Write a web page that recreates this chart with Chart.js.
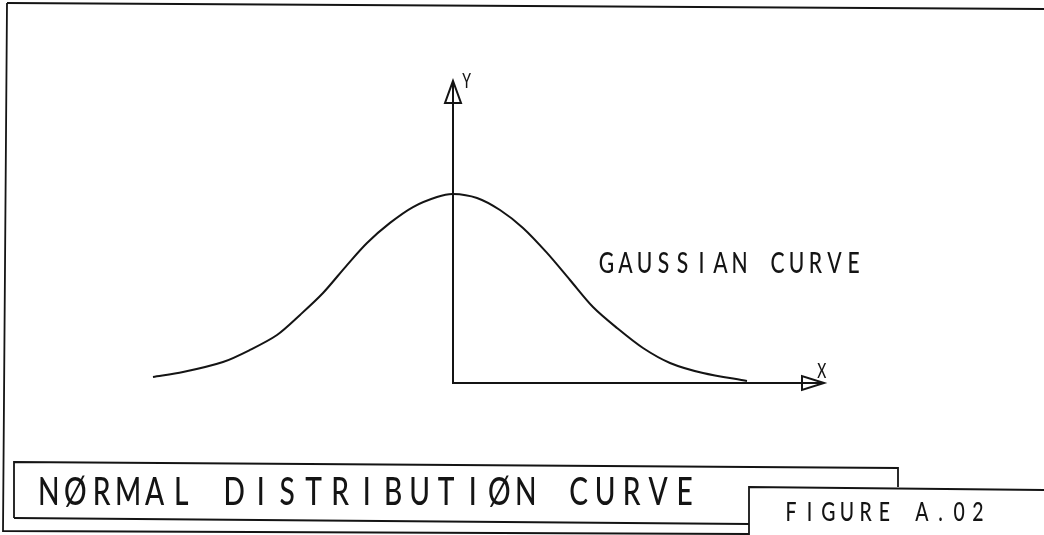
<!DOCTYPE html>
<html>
<head>
<meta charset="utf-8">
<script src="https://cdn.jsdelivr.net/npm/chart.js@4.4.1/dist/chart.umd.min.js"></script>
<style>
  html, body { margin: 0; padding: 0; background: #fff; }
  #wrap { width: 1044px; height: 535px; }
</style>
</head>
<body>
<div id="wrap"><canvas id="chart" width="1044" height="535"></canvas></div>
<script>
// Curve: x in hundreds of pixels from the Y axis, y relative to the peak
const curveX = [-3.00, -2.70, -2.30, -2.03, -1.76, -1.53, -1.30, -1.06, -0.86, -0.63, -0.40, -0.16,
                0.00, 0.24, 0.47, 0.70, 0.94, 1.17, 1.40, 1.64, 1.90, 2.17, 2.50, 2.94];
const curveY = [0.032, 0.058, 0.111, 0.175, 0.254, 0.360, 0.476, 0.624, 0.741, 0.847, 0.931, 0.984,
                1.000, 0.979, 0.915, 0.820, 0.688, 0.545, 0.402, 0.291, 0.185, 0.106, 0.053, 0.011];

// Where the drawn axes end (data units)
const axisXEnd = 3.71;
const axisYEnd = 1.598;

// Visible window of the sheet
const xMin = -4.53, xMax = 5.91;
const yMin = -0.804, yMax = 2.026;

// Texts
const curveLabel = 'GAUSSIAN CURVE';
const xLabel = 'X';
const yLabel = 'Y';
const titleText = 'NØRMAL DISTRIBUTIØN CURVE';
const figureText = 'FIGURE A.02';

const ink = '#141414';
const textFont = 'Lato';
const textWeight = 500;
const capRatio = 0.72;
const glyphRatio = 0.62;   // glyph width / cap height of the plotter lettering

// Draw text like a pen plotter: fixed advance per character, narrow glyphs
function plotterText(ctx, text, left, baseline, cap, advance) {
    const size = cap / capRatio;
    ctx.save();
    ctx.font = textWeight + ' ' + size + 'px ' + textFont;
    ctx.fillStyle = ink;
    ctx.textBaseline = 'alphabetic';
    ctx.textAlign = 'center';
    const m = ctx.measureText('N');
    const inkW = m.actualBoundingBoxRight + m.actualBoundingBoxLeft;
    const cell = glyphRatio * cap;
    const sx = cell / inkW;
    for (let i = 0; i < text.length; i++) {
        ctx.save();
        ctx.translate(left + i * advance + cell / 2, baseline);
        ctx.scale(sx, 1);
        ctx.fillText(text[i], 0, 0);
        ctx.restore();
    }
    ctx.restore();
}

function polyline(ctx, pts, close) {
    ctx.beginPath();
    ctx.moveTo(pts[0][0], pts[0][1]);
    for (let i = 1; i < pts.length; i++) ctx.lineTo(pts[i][0], pts[i][1]);
    if (close) ctx.closePath();
    ctx.stroke();
}

const sheetPlugin = {
    id: 'sheet',
    beforeDraw(chart) {
        const ctx = chart.ctx;
        ctx.save();
        ctx.fillStyle = '#fff';
        ctx.fillRect(0, 0, chart.width, chart.height);
        ctx.restore();
    },
    afterDatasetsDraw(chart) {
        const ctx = chart.ctx;
        const xs = chart.scales.x, ys = chart.scales.y;
        const ox = xs.getPixelForValue(0), oy = ys.getPixelForValue(0);
        const xe = xs.getPixelForValue(axisXEnd), ye = ys.getPixelForValue(axisYEnd);

        ctx.save();
        ctx.strokeStyle = ink;
        ctx.lineWidth = 2;
        ctx.lineJoin = 'miter';

        // axes
        polyline(ctx, [[ox, ye], [ox, oy], [xe, oy]]);
        // open arrow heads
        polyline(ctx, [[ox, ye], [ox - 8, ye + 22], [ox + 8, ye + 22]], true);
        polyline(ctx, [[xe, oy], [xe - 22, oy - 7], [xe - 22, oy + 7]], true);

        // sheet frame and title blocks (slightly skewed, as in the scan)
        ctx.lineWidth = 1.8;
        polyline(ctx, [[7, 3], [1044, 9]]);
        polyline(ctx, [[7, 3], [3, 531], [749, 534]]);
        polyline(ctx, [[14, 518], [14, 462], [898, 468], [898, 487]]);
        polyline(ctx, [[14, 518], [749, 524]]);
        polyline(ctx, [[749, 535], [749, 487], [1044, 490]]);
        ctx.restore();

        // labels
        plotterText(ctx, yLabel, xs.getPixelForValue(0.09), ys.getPixelForValue(1.561), 15, 12);
        plotterText(ctx, xLabel, xs.getPixelForValue(3.64), ys.getPixelForValue(0.026), 15, 12);
        plotterText(ctx, curveLabel, xs.getPixelForValue(1.47), ys.getPixelForValue(0.582), 21, 19);
        plotterText(ctx, titleText, 40, 505, 28, 26.5);
        plotterText(ctx, figureText, 785, 521, 19, 18.7);
    }
};

const points = curveX.map((x, i) => ({ x: x, y: curveY[i] }));

new Chart(document.getElementById('chart'), {
    type: 'scatter',
    data: {
        datasets: [{
            data: points,
            showLine: true,
            borderColor: ink,
            borderWidth: 2,
            pointRadius: 0,
            tension: 0.3,
            fill: false
        }]
    },
    options: {
        responsive: false,
        devicePixelRatio: 1,
        animation: false,
        layout: { padding: 0 },
        scales: {
            x: { type: 'linear', min: xMin, max: xMax, display: false },
            y: { type: 'linear', min: yMin, max: yMax, display: false }
        },
        plugins: {
            legend: { display: false },
            tooltip: { enabled: false }
        }
    },
    plugins: [sheetPlugin]
});
</script>
</body>
</html>
